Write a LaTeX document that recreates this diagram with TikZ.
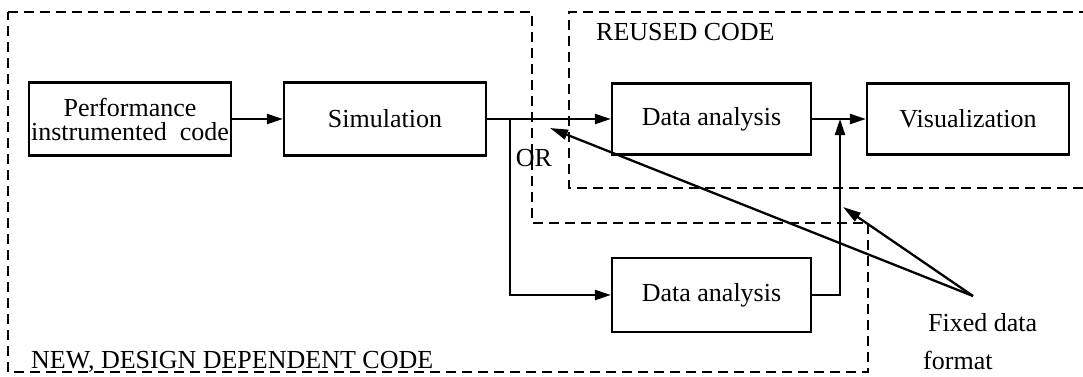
\documentclass[tikz,border=0pt]{standalone}
\usepackage{fontspec}
\setmainfont{Liberation Serif}
\usetikzlibrary{arrows.meta}
\begin{document}
\begin{tikzpicture}[x=1pt,y=-1pt,
  every node/.style={font=\fontsize{26}{26}\selectfont},
  block/.style={draw,line width=2.3pt,minimum width=200pt,minimum height=72pt,inner sep=0pt,align=center},
  flow/.style={line width=2.3pt,-{Triangle[length=16pt,width=10pt]}},
  pointer/.style={line width=2.3pt,-{Triangle[length=18pt,width=10pt]}},
  region/.style={line width=2.3pt,dash pattern=on 10pt off 6pt},
  label/.style={inner sep=0pt}]
\useasboundingbox (0,0) rectangle (1083,376);

% dashed regions
\draw[region] (8,12) -- (532,12) -- (532,223) -- (868,223) -- (868,372) -- (8,372) -- cycle;
\draw[region] (1083,188) -- (569,188) -- (569,12) -- (1083,12);
\node[label,anchor=west] (reused) at (596,32) {REUSED CODE};
\node[label,anchor=base west] (newcode) at (31,368) {NEW, DESIGN DEPENDENT CODE};

% processing blocks
\node[block,minimum width=202pt,minimum height=73pt] (perf) at (130,119) {Performance\\[-2pt]instrumented\ \ code};
\node[block,minimum width=202pt,minimum height=73pt] (sim) at (385,119) {Simulation};
\node[block,minimum width=199pt,minimum height=71pt] (da1) at (711.5,119) {Data analysis};
\node[block,minimum width=202pt,minimum height=71pt] (vis) at (968,119) {Visualization};
\node[block,minimum width=199pt,minimum height=74pt] (da2) at (711.5,295) {Data analysis};

% data flow
\coordinate (split) at (510,119);
\coordinate (join) at (840,119);
\draw[flow] (perf) -- (sim);
\draw[flow] (sim) -- (da1);
\draw[flow] (split) |- (da2.west);
\draw[flow] (da1) -- (vis);
\draw[flow] (da2.east) -| (join);

% labels and pointers
\node[label] (or) at (534,158) {OR};
\node[label,anchor=west] (fix1) at (928,323) {Fixed data};
\node[label,anchor=west] (fix2) at (923,360) {format};
\coordinate (src) at (973,296);
\coordinate (tipa) at (550,128);
\coordinate (tipb) at (843,207);
\draw[pointer] (src) -- (tipa);
\draw[pointer] (src) -- (tipb);
\end{tikzpicture}
\end{document}
